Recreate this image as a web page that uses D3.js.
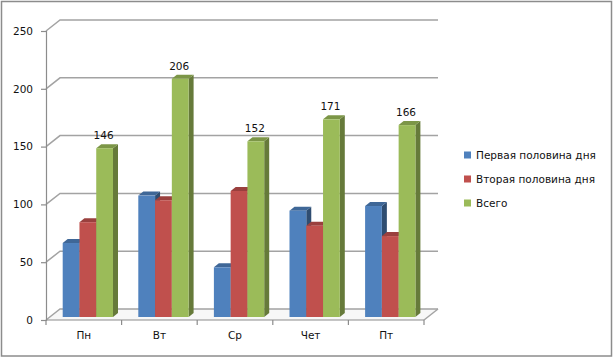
<!DOCTYPE html>
<html>
<head>
<meta charset="utf-8">
<script src="https://cdn.jsdelivr.net/npm/d3@7"></script>
<style>
    body { margin: 0; background: #fff; }
    text { font-family: "DejaVu Sans", sans-serif; font-size: 10.5px; fill: #111; }
</style>
</head>
<body>
<div id="chart"></div>
<script>
const days = ["Пн", "Вт", "Ср", "Чет", "Пт"];
const seriesNames = ["Первая половина дня", "Вторая половина дня", "Всего"];
const firstHalf = [64, 105, 43, 92, 96];
const secondHalf = [82, 101, 109, 79, 70];
const total = [146, 206, 152, 171, 166];
const yTicks = [0, 50, 100, 150, 200, 250];

const frontColors = ["#4f81bd", "#c0504d", "#9bbb59"];
const topColors = ["#3f6797", "#9a403e", "#7c9647"];
const sideColors = ["#2f4d71", "#73302e", "#667a3a"];

const width = 616, height = 362;
// shift of the back wall and of the bar depth, this is a fake 3d chart
const wall = { dx: 14, dy: -11 };
const depth = { dx: 5, dy: -4 };

const svg = d3.select("#chart")
    .append("svg")
    .attr("width", width)
    .attr("height", height)
    .style("display", "block");

// outer frame
svg.append("rect")
    .attr("x", 1.5).attr("y", 1.5)
    .attr("width", 610).attr("height", 354.5)
    .attr("fill", "#fff")
    .attr("stroke", "#8c8c8c")
    .attr("stroke-width", 1.5);

// scales
const x = d3.scaleBand().domain(days).range([46, 424]);
const y = d3.scaleLinear().domain([0, 250]).range([320, 31]);
const barY = d3.scaleLinear().domain([0, 250]).range([317, 28]);
const x1 = d3.scaleBand().domain(d3.range(3)).range([16.7, 67]);

// floor
svg.append("path")
    .attr("d", d3.line()([
        [x.range()[0], y(0)],
        [x.range()[0] + wall.dx, y(0) + wall.dy],
        [x.range()[1] + wall.dx, y(0) + wall.dy],
        [x.range()[1], y(0)]
    ]) + "Z")
    .attr("fill", "#f7f7f7")
    .attr("stroke", "none");

// gridlines on the back wall, with the diagonal to the axis
svg.append("g")
    .selectAll("path")
    .data(yTicks)
    .join("path")
    .attr("d", d => d3.line()([
        [x.range()[0], y(d)],
        [x.range()[0] + wall.dx, y(d) + wall.dy],
        [x.range()[1] + wall.dx, y(d) + wall.dy]
    ]))
    .attr("fill", "none")
    .attr("stroke", "#a3a3a3")
    .attr("stroke-width", 1.5);

// right edge of the floor
svg.append("path")
    .attr("d", d3.line()([
        [x.range()[1], y(0)],
        [x.range()[1] + wall.dx, y(0) + wall.dy]
    ]))
    .attr("stroke", "#a3a3a3")
    .attr("stroke-width", 1.5);

// axes
const yAxis = svg.append("g")
    .attr("transform", `translate(${x.range()[0]},0)`)
    .call(d3.axisLeft(y).tickValues(yTicks).tickSize(5).tickPadding(8));
const xAxis = svg.append("g")
    .attr("transform", `translate(0,${y(0)})`)
    .call(d3.axisBottom(x).tickSize(0).tickPadding(12));

xAxis.selectAll(".tick text").attr("dy", "0.71em");
xAxis.selectAll(".edge")
    .data(d3.range(days.length + 1))
    .join("line")
    .attr("class", "edge")
    .attr("x1", i => x.range()[0] + i * x.step())
    .attr("x2", i => x.range()[0] + i * x.step())
    .attr("y1", 0)
    .attr("y2", 5);

[yAxis, xAxis].forEach(a => {
    a.selectAll("path.domain").attr("stroke", "#8c8c8c").attr("stroke-width", 1.2);
    a.selectAll("line").attr("stroke", "#8c8c8c").attr("stroke-width", 1.2);
});
xAxis.select("path.domain").attr("d", `M${x.range()[0]},0H${x.range()[1]}`);

// bars
const allValues = [firstHalf, secondHalf, total];
days.forEach((day, i) => {
    const g = svg.append("g");
    allValues.forEach((values, s) => {
        const left = x(day) + x1(s);
        const w = x1.bandwidth();
        const t = barY(values[i]);
        const b = barY(0);

        g.append("path")
            .attr("d", d3.line()([
                [left + w, t],
                [left + w + depth.dx, t + depth.dy],
                [left + w + depth.dx, b + depth.dy],
                [left + w, b]
            ]) + "Z")
            .attr("fill", sideColors[s]);
        g.append("path")
            .attr("d", d3.line()([
                [left, t],
                [left + depth.dx, t + depth.dy],
                [left + w + depth.dx, t + depth.dy],
                [left + w, t]
            ]) + "Z")
            .attr("fill", topColors[s]);
        g.append("rect")
            .attr("x", left)
            .attr("y", t)
            .attr("width", w)
            .attr("height", b - t)
            .attr("fill", frontColors[s]);
    });
});

// labels over the total bars
svg.append("g")
    .selectAll("text")
    .data(total)
    .join("text")
    .attr("x", (d, i) => x(days[i]) + x1(2) + x1.bandwidth() / 2 - 1)
    .attr("y", d => barY(d) - 9)
    .attr("text-anchor", "middle")
    .text(d => d);

// legend
const legendY = d3.scalePoint().domain(seriesNames).range([155, 203]);
const legend = svg.append("g")
    .selectAll("g")
    .data(seriesNames)
    .join("g")
    .attr("transform", d => `translate(464,${legendY(d)})`);
legend.append("rect")
    .attr("y", -3.5)
    .attr("width", 7)
    .attr("height", 7)
    .attr("fill", (d, i) => frontColors[i]);
legend.append("text")
    .attr("x", 12)
    .attr("dy", "0.35em")
    .text(d => d);
</script>
</body>
</html>
